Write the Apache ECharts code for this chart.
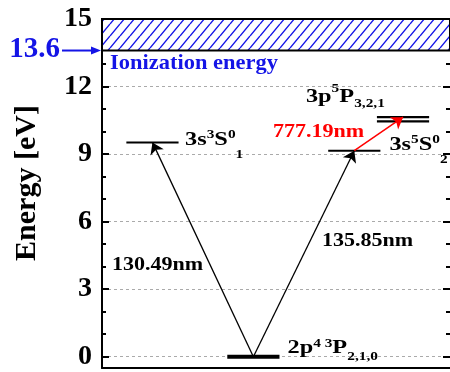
<!DOCTYPE html>
<html><head><meta charset="utf-8">
<script src="https://cdn.jsdelivr.net/npm/echarts@6/dist/echarts.min.js"></script>
<style>html,body{margin:0;padding:0;background:#fff}#c{width:450px;height:372px}</style>
</head><body><div id="c"></div>
<script>
// ---- data ----
const yMin = -0.5, yMax = 15;
const yTicks = [0, 3, 6, 9, 12, 15];
const yMinorTicks = [1, 2, 4, 5, 7, 8, 10, 11, 13, 14];
const ionizationEnergy = 13.6;
// energy levels (eV) and their horizontal extent on a 0-100 diagram scale
const levelNames = ['2p4 3P2,1,0', '3s3S0_1', '3s5S0_2', '3p5P3,2,1 (upper)', '3p5P3,2,1 (lower)'];
const levelEnergy = [0, 9.52, 9.15, 10.64, 10.45];
const levelXStart = [36, 7, 65, 79, 79];
const levelXEnd = [51, 22, 80, 94, 94];
// transitions: from level index -> to level index
const transitionNames = ['130.49nm', '135.85nm', '777.19nm'];
const transitionFrom = [0, 0, 2];
const transitionTo = [1, 2, 3];

// ---- helpers ----
const FF = '"Liberation Serif","Times New Roman",serif';
const BLUE = '#1414e6';
const mctx = document.createElement('canvas').getContext('2d');
function measure(t, font) { mctx.font = font; return mctx.measureText(t).width; }

const pat = document.createElement('canvas');
pat.width = 10; pat.height = 12;
(function () {
  const c = pat.getContext('2d');
  c.fillStyle = '#fff'; c.fillRect(0, 0, 10, 12);
  c.strokeStyle = BLUE; c.lineWidth = 1.4;
  c.beginPath();
  c.moveTo(0, 12); c.lineTo(10, 0);
  c.moveTo(-10, 12); c.lineTo(0, 0);
  c.moveTo(10, 12); c.lineTo(20, 0);
  c.stroke();
})();

const chart = echarts.init(document.getElementById('c'), null, { renderer: 'canvas' });

const levelSeries = levelEnergy.map((e, i) => ({
  type: 'line', name: levelNames[i], silent: true, symbol: 'none', animation: false,
  data: [[levelXStart[i], e], [levelXEnd[i], e]],
  lineStyle: { color: '#000', width: i === 0 ? 4 : (i >= 3 ? 2.2 : 2) },
  z: 5
}));
const center = i => (levelXStart[i] + levelXEnd[i]) / 2;

const arrowSeries = {
  type: 'lines', coordinateSystem: 'cartesian2d', silent: true, animation: false,
  symbol: ['none', 'arrow'], symbolSize: [7, 11], z: 6,
  data: transitionNames.map((n, k) => ({
    name: n,
    coords: [[center(transitionFrom[k]), levelEnergy[transitionFrom[k]]],
             [center(transitionTo[k]), levelEnergy[transitionTo[k]]]],
    lineStyle: { color: k === 2 ? '#ff0000' : '#000', width: k === 2 ? 1.5 : 1.3, opacity: 1 }
  }))
};

const hatchSeries = {
  type: 'line', data: [], silent: true,
  markArea: {
    silent: true,
    itemStyle: { color: { image: pat, repeat: 'repeat' }, borderColor: '#000', borderWidth: 2 },
    data: [[{ xAxis: 0, yAxis: ionizationEnergy }, { xAxis: 100, yAxis: yMax }]]
  }
};

const baseY = {
  type: 'value', min: yMin, max: yMax,
  axisLine: { show: false }, axisLabel: { show: false }, splitLine: { show: false }
};

chart.setOption({
  animation: false,
  backgroundColor: '#fff',
  grid: { left: 102, right: -1, top: 19, bottom: 4 },
  xAxis: { type: 'value', min: 0, max: 100, axisLine: { show: true, onZero: false, lineStyle: { color: '#000', width: 2 } },
           axisTick: { show: false }, axisLabel: { show: false }, splitLine: { show: false } },
  yAxis: [
    Object.assign({}, baseY, {
      position: 'left',
      axisLine: { show: true, onZero: false, lineStyle: { color: '#000', width: 2 } },
      axisTick: { show: true, inside: true, length: 7, customValues: yTicks, lineStyle: { color: '#000', width: 2 } },
      axisLabel: { show: true, customValues: yTicks, margin: 10, color: '#000', fontSize: 28, fontWeight: 'bold', fontFamily: FF },
      splitLine: { show: true, lineStyle: { color: '#aaa', type: [3, 3], width: 1 } }
    }),
    Object.assign({}, baseY, {
      position: 'left',
      axisTick: { show: true, inside: true, length: 4, customValues: yMinorTicks, lineStyle: { color: '#000', width: 2 } }
    }),
    Object.assign({}, baseY, {
      position: 'right',
      axisTick: { show: true, inside: true, length: 7, customValues: yTicks, lineStyle: { color: '#000', width: 2 } }
    }),
    Object.assign({}, baseY, {
      position: 'right',
      axisTick: { show: true, inside: true, length: 4, customValues: yMinorTicks, lineStyle: { color: '#000', width: 2 } }
    })
  ],
  series: [hatchSeries].concat(levelSeries, [arrowSeries])
});

// ---- text annotations ----
function textEl(t, x, y, font, fill, opts) {
  return Object.assign({
    type: 'text', x, y, z: 100,
    style: { text: t, font, fill, align: 'left', verticalAlign: 'middle', textAlign: 'left', textVerticalAlign: 'middle' }
  }, opts || {});
}
function richLabel(parts, x, baseline, scaleX) {
  let cx = 0; const children = [];
  parts.forEach(([t, size, dy]) => {
    const font = `bold ${size}px ${FF}`;
    children.push(textEl(t, cx, dy - 0.34 * size, font, '#000'));
    cx += measure(t, font);
  });
  return { type: 'group', x, y: baseline, scaleX, z: 100, children };
}
const px = (x, y) => chart.convertToPixel({ xAxisIndex: 0, yAxisIndex: 0 }, [x, y]);

const M = 19, S = 12, SX = 1.28;
const levelLabels = [
  { lvl: 0, end: true, dx: 8, dy: -2, parts: [['2p', M, 0], ['4 3', S, -7], ['P', M, 0], ['2,1,0', S, 6]] },
  { lvl: 1, end: true, dx: 6.5, dy: 3.7, parts: [['3s', M, 0], ['3', S, -7.5], ['S', M, 0], ['0', S, -7.5], ['1', S, 13]] },
  { lvl: 2, end: true, dx: 9, dy: 0.5, parts: [['3s', M, 0], ['5', S, -7.5], ['S', M, 0], ['0', S, -7.5], ['2', S, 13]] },
  { lvl: 3, end: false, dx: -71, dy: -13.7, parts: [['3p', M, 0], ['5', S, -10], ['P', M, 0], ['3,2,1', S, 5]] }
];
const graphics = [];
levelLabels.forEach(L => {
  const p = px(L.end ? levelXEnd[L.lvl] : levelXStart[L.lvl], levelEnergy[L.lvl]);
  graphics.push(richLabel(L.parts, p[0] + L.dx, p[1] + L.dy, SX));
});

const nmFont = `bold 19px ${FF}`;
const nmPos = [[112, 265], [322, 241], [273, 132]];
transitionNames.forEach((n, k) => {
  graphics.push(textEl(n, nmPos[k][0], nmPos[k][1], nmFont, k === 2 ? '#ff0000' : '#000', { scaleX: 1.16 }));
});

const ionY = px(0, ionizationEnergy)[1];
graphics.push(textEl('Ionization energy', 110, 64, `bold 21px ${FF}`, BLUE, { scaleX: 1.07 }));
graphics.push(textEl(String(ionizationEnergy), 60, ionY - 1, `bold 29px ${FF}`, BLUE,
  { style: { text: String(ionizationEnergy), font: `bold 29px ${FF}`, fill: BLUE, align: 'right', verticalAlign: 'middle', textAlign: 'right', textVerticalAlign: 'middle' } }));
graphics.push({ type: 'line', z: 100, shape: { x1: 62, y1: ionY, x2: 94, y2: ionY }, style: { stroke: BLUE, lineWidth: 2 } });
graphics.push({ type: 'polygon', z: 100, shape: { points: [[91, ionY - 4], [101, ionY], [91, ionY + 4]] }, style: { fill: BLUE } });
graphics.push({ type: 'text', x: 27, y: 183, rotation: Math.PI / 2, z: 100,
  style: { text: 'Energy [eV]', font: `bold 30px ${FF}`, fill: '#000', align: 'center', verticalAlign: 'middle', textAlign: 'center', textVerticalAlign: 'middle' } });

chart.setOption({ graphic: { elements: graphics } });
</script></body></html>
